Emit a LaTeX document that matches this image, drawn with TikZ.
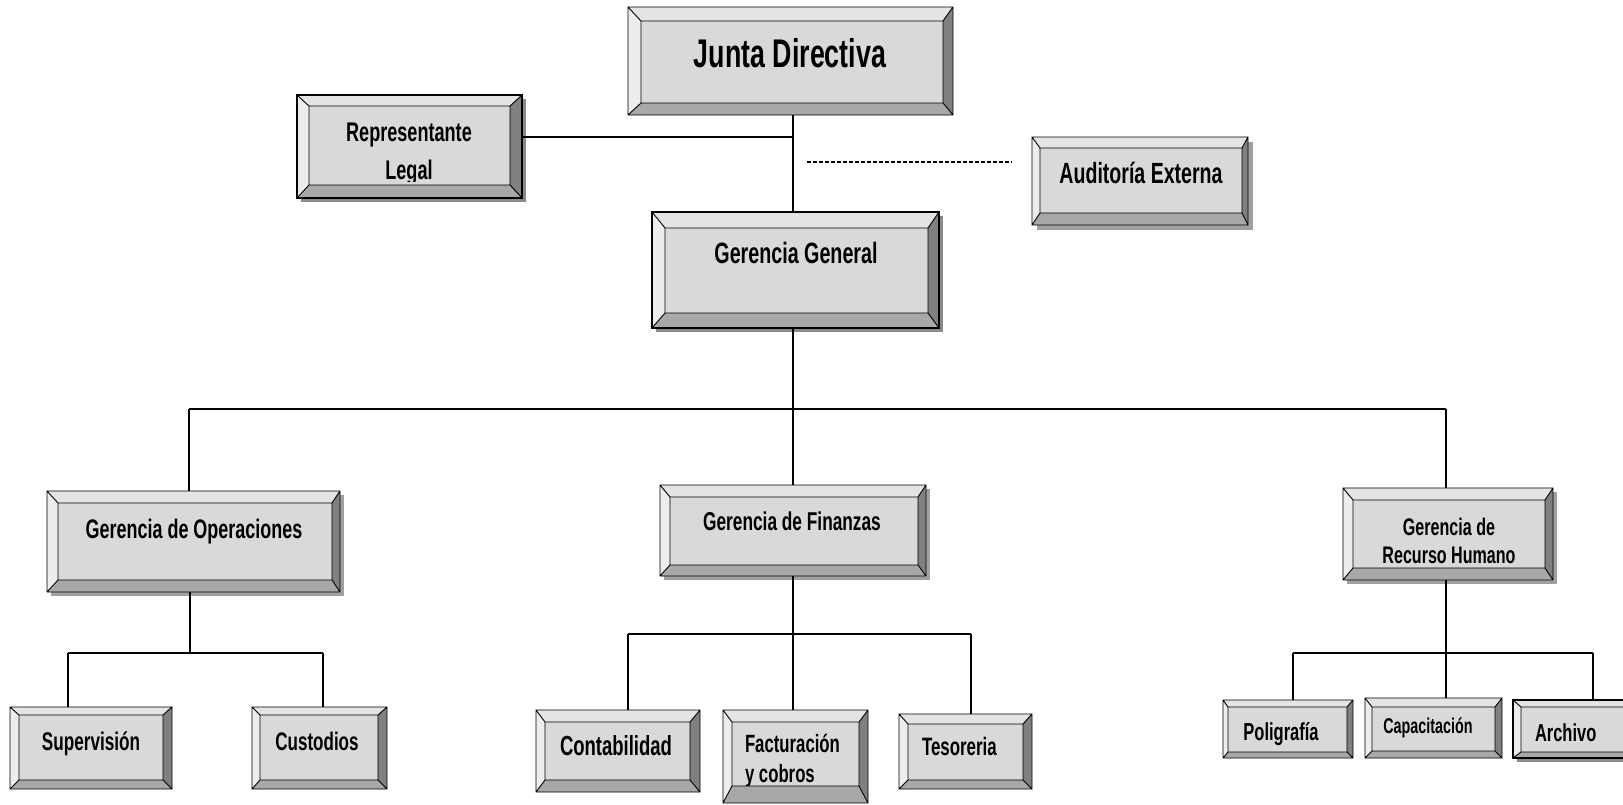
\documentclass[tikz,border=0pt]{standalone}
\usepackage{fontspec}
\setmainfont{Liberation Sans}[FakeStretch=0.67]
\usetikzlibrary{fit,calc}
\definecolor{cface}{HTML}{D9D9D9}
\definecolor{ctop}{HTML}{E4E4E4}
\definecolor{cleft}{HTML}{EDEDED}
\definecolor{cright}{HTML}{808080}
\definecolor{cbot}{HTML}{A8A8A8}
\definecolor{cdsh}{HTML}{A0A0A0}
\definecolor{cssh}{HTML}{8A8A8A}
\tikzset{
  bvl/.style={draw=black, line width=0.45pt},
  conn/.style={draw=black, line width=0.55pt},
  thickbd/.style={draw=black, line width=1.1pt},
  lbl/.style={inner sep=0pt, outer sep=0pt, anchor=base, text=black},
}
\newcommand\bev[9]{%
  \fill[cface] (#2,#3) rectangle (#4,#5);
  \fill[ctop] (#2,#3) -- (#4,#3) -- ({#4-#8},{#3+#7}) -- ({#2+#6},{#3+#7}) -- cycle;
  \fill[cbot] (#2,#5) -- (#4,#5) -- ({#4-#8},{#5-#9}) -- ({#2+#6},{#5-#9}) -- cycle;
  \fill[cleft] (#2,#3) -- ({#2+#6},{#3+#7}) -- ({#2+#6},{#5-#9}) -- (#2,#5) -- cycle;
  \fill[cright] (#4,#3) -- ({#4-#8},{#3+#7}) -- ({#4-#8},{#5-#9}) -- (#4,#5) -- cycle;
  \draw[bvl] (#2,#3) rectangle (#4,#5) ({#2+#6},{#3+#7}) rectangle ({#4-#8},{#5-#9})
    (#2,#3) -- ({#2+#6},{#3+#7}) (#4,#3) -- ({#4-#8},{#3+#7})
    (#2,#5) -- ({#2+#6},{#5-#9}) (#4,#5) -- ({#4-#8},{#5-#9});
  \node[fit={(#2,#3) (#4,#5)}, inner sep=0pt, outer sep=0pt] (#1) {};
}
% shadow: color, x1,y1,x2,y2,d
\newcommand\shad[6]{\fill[#1] ({#2+#6},{#3+#6}) rectangle ({#4+#6},{#5+#6});}
\newcommand\fs[2]{\fontsize{#1}{#2}\selectfont\bfseries}
\begin{document}
\begin{tikzpicture}[x=0.5pt,y=-0.5pt]
\clip (0,0) rectangle (1623,804);
\fill[white] (0,0) rectangle (1623,804);
% junction coordinates
\coordinate (spine) at (793,0);
\coordinate (rlj) at (793,137);
\coordinate (ad1) at (807,162);
\coordinate (ad2) at (1012,162);
\coordinate (b1) at (189,409);
\coordinate (b2) at (793,409);
\coordinate (b3) at (1446,409);
\coordinate (o0) at (190,653);
\coordinate (o1) at (68,653);
\coordinate (o2) at (323,653);
\coordinate (f0) at (793,634);
\coordinate (f1) at (628,634);
\coordinate (f3) at (971,634);
\coordinate (r0) at (1446,653);
\coordinate (r1) at (1293,653);
\coordinate (r3) at (1593,653);
% shadows
\shad{cssh}{297}{95}{522}{198}{4}
\shad{cdsh}{1032}{137}{1248}{225}{5}
\shad{cssh}{652}{212}{939}{328}{4}
\shad{cdsh}{47}{491}{340}{592}{4}
\shad{cdsh}{660}{485}{926}{576}{4}
\shad{cdsh}{1343}{488}{1553}{580}{4}
\shad{cssh}{1513}{700}{1640}{758}{4}
% boxes
\bev{jd}{628}{7}{953}{115}{13}{14}{10}{12}
\bev{rl}{297}{95}{522}{198}{12}{11}{12}{13}
\bev{ae}{1032}{137}{1248}{225}{8}{11}{6}{12}
\bev{gg}{652}{212}{939}{328}{13}{16}{11}{15}
\bev{go}{47}{491}{340}{592}{11}{12}{8}{12}
\bev{gf}{660}{485}{926}{576}{10}{12}{8}{11}
\bev{grh}{1343}{488}{1553}{580}{10}{12}{8}{12}
\bev{sup}{10}{707}{172}{789}{9}{8}{9}{9}
\bev{cus}{252}{707}{387}{789}{8}{8}{9}{9}
\bev{con}{536}{710}{700}{792}{9}{12}{10}{12}
\bev{fac}{723}{710}{868}{803}{9}{12}{9}{17}
\bev{tes}{899}{714}{1032}{789}{9}{10}{9}{9}
\bev{pol}{1223}{700}{1353}{758}{5}{7}{6}{6}
\bev{cap}{1365}{698}{1502}{758}{7}{9}{7}{7}
\bev{arc}{1513}{700}{1640}{758}{8}{7}{8}{6}
\draw[thickbd] (rl.north west) rectangle (rl.south east);
\draw[thickbd] (gg.north west) rectangle (gg.south east);
\draw[thickbd] (arc.north west) rectangle (arc.south east);
% connectors
\draw[conn] (spine |- jd.south) -- (spine |- gg.north);
\draw[conn] (rl.east |- rlj) -- (rlj);
\draw[draw=black, line width=0.55pt, dash pattern=on 2pt off 1pt] (ad1) -- (ad2);
\draw[conn] (spine |- gg.south) -- (b2);
\draw[conn] (b1) -- (b3);
\draw[conn] (b1) -- (b1 |- go.north);
\draw[conn] (b2) -- (b2 |- gf.north);
\draw[conn] (b3) -- (b3 |- grh.north);
\draw[conn] (o0 |- go.south) -- (o0);
\draw[conn] (o1) -- (o2);
\draw[conn] (o1) -- (o1 |- sup.north);
\draw[conn] (o2) -- (o2 |- cus.north);
\draw[conn] (f0 |- gf.south) -- (f0);
\draw[conn] (f1) -- (f3);
\draw[conn] (f1) -- (f1 |- con.north);
\draw[conn] (f0) -- (f0 |- fac.north);
\draw[conn] (f3) -- (f3 |- tes.north);
\draw[conn] (r0 |- grh.south) -- (r0);
\draw[conn] (r1) -- (r3);
\draw[conn] (r1) -- (r1 |- pol.north);
\draw[conn] (r0) -- (r0 |- cap.north);
\draw[conn] (r3) -- (r3 |- arc.north);
% labels
\node[lbl, font=\fs{20}{24}] (jd-t) at (790,67) {Junta Directiva};
\begin{scope}
\clip (309,106) rectangle (510,181);
\node[lbl, font=\fs{13.5}{16}] (rl-t1) at (409,141) {Representante};
\node[lbl, font=\fs{13.5}{16}] (rl-t2) at (409,179) {Legal};
\end{scope}
\node[lbl, font=\fs{14.6}{18}] (ae-t) at (1141,183) {Auditoría Externa};
\node[lbl, font=\fs{14.7}{18}] (gg-t) at (796,263) {Gerencia General};
\node[lbl, font=\fs{13.4}{16}] (go-t) at (194,538) {Gerencia de Operaciones};
\node[lbl, font=\fs{12.9}{16}] (gf-t) at (792,530) {Gerencia de Finanzas};
\node[lbl, font=\fs{12}{15}] (grh-t1) at (1449,535) {Gerencia de};
\node[lbl, font=\fs{12}{15}] (grh-t2) at (1449,563) {Recurso Humano};
\node[lbl, font=\fs{12.8}{15}] (sup-t) at (91,750) {Supervisión};
\node[lbl, font=\fs{12.7}{15}] (cus-t) at (317,750) {Custodios};
\node[lbl, anchor=base west, font=\fs{13.8}{16}] (con-t) at (560,755) {Contabilidad};
\begin{scope}
\clip (732,722) rectangle (859,785);
\node[lbl, anchor=base west, font=\fs{12.5}{15}] (fac-t1) at (745,752) {Facturación};
\node[lbl, anchor=base west, font=\fs{12.5}{15}] (fac-t2) at (745,782) {y cobros};
\end{scope}
\node[lbl, anchor=base west, font=\fs{12.6}{15}] (tes-t) at (922,755) {Tesoreria};
\node[lbl, font=\fs{12.3}{15}] (pol-t) at (1281,740) {Poligrafía};
\node[lbl, font=\fs{10.7}{13}] (cap-t) at (1428,733) {Capacitación};
\node[lbl, anchor=base west, font=\fs{12.3}{15}] (arc-t) at (1535,741) {Archivo};
\end{tikzpicture}
\end{document}
